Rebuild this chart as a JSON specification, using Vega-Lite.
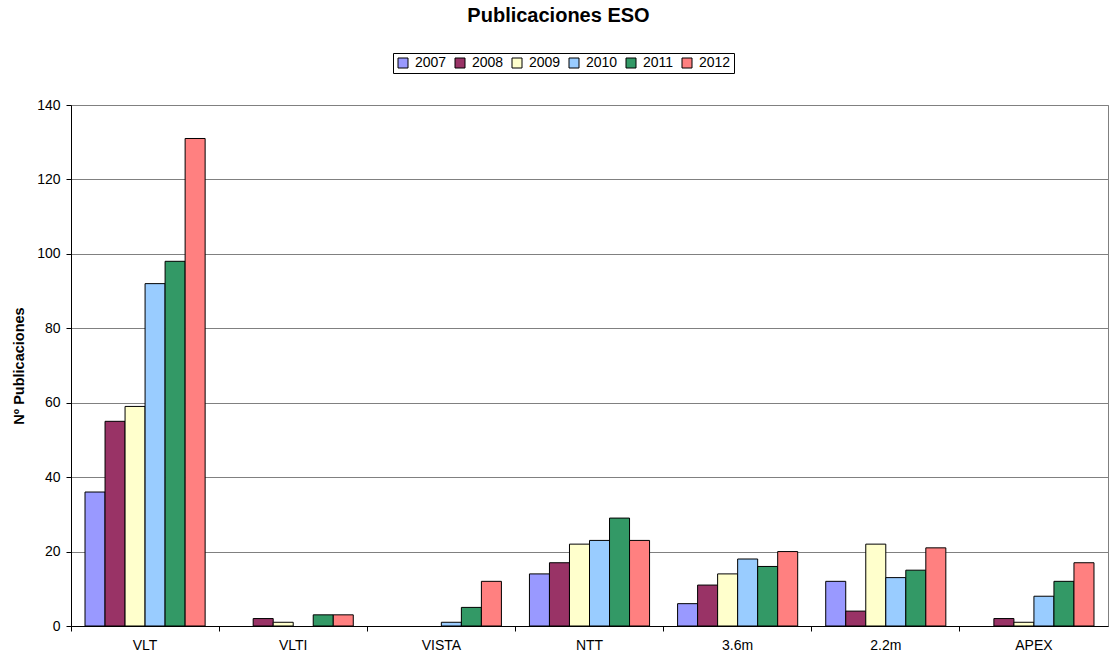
{
  "$schema": "https://vega.github.io/schema/vega-lite/v6.json",
  "width": 1037,
  "height": 521,
  "autosize": {"type": "none"},
  "padding": {"left": 71, "top": 105, "right": 5, "bottom": 35},
  "background": "white",
  "title": {
    "text": "Publicaciones ESO",
    "font": "Liberation Sans",
    "fontSize": 20,
    "fontWeight": "bold",
    "color": "black",
    "anchor": "middle",
    "dx": -31,
    "offset": 27
  },
  "config": {
    "font": "Liberation Sans",
    "view": {"stroke": "#808080", "strokeWidth": 1},
    "axis": {"labelColor": "black", "labelFont": "Liberation Sans", "domainColor": "black", "tickColor": "black"},
    "legend": {"strokeColor": "black"}
  },
  "data": {
    "values": [
      {"telescope": "VLT", "year": "2007", "value": 36},
      {"telescope": "VLT", "year": "2008", "value": 55},
      {"telescope": "VLT", "year": "2009", "value": 59},
      {"telescope": "VLT", "year": "2010", "value": 92},
      {"telescope": "VLT", "year": "2011", "value": 98},
      {"telescope": "VLT", "year": "2012", "value": 131},
      {"telescope": "VLTI", "year": "2007", "value": 0},
      {"telescope": "VLTI", "year": "2008", "value": 2},
      {"telescope": "VLTI", "year": "2009", "value": 1},
      {"telescope": "VLTI", "year": "2010", "value": 0},
      {"telescope": "VLTI", "year": "2011", "value": 3},
      {"telescope": "VLTI", "year": "2012", "value": 3},
      {"telescope": "VISTA", "year": "2007", "value": 0},
      {"telescope": "VISTA", "year": "2008", "value": 0},
      {"telescope": "VISTA", "year": "2009", "value": 0},
      {"telescope": "VISTA", "year": "2010", "value": 1},
      {"telescope": "VISTA", "year": "2011", "value": 5},
      {"telescope": "VISTA", "year": "2012", "value": 12},
      {"telescope": "NTT", "year": "2007", "value": 14},
      {"telescope": "NTT", "year": "2008", "value": 17},
      {"telescope": "NTT", "year": "2009", "value": 22},
      {"telescope": "NTT", "year": "2010", "value": 23},
      {"telescope": "NTT", "year": "2011", "value": 29},
      {"telescope": "NTT", "year": "2012", "value": 23},
      {"telescope": "3.6m", "year": "2007", "value": 6},
      {"telescope": "3.6m", "year": "2008", "value": 11},
      {"telescope": "3.6m", "year": "2009", "value": 14},
      {"telescope": "3.6m", "year": "2010", "value": 18},
      {"telescope": "3.6m", "year": "2011", "value": 16},
      {"telescope": "3.6m", "year": "2012", "value": 20},
      {"telescope": "2.2m", "year": "2007", "value": 12},
      {"telescope": "2.2m", "year": "2008", "value": 4},
      {"telescope": "2.2m", "year": "2009", "value": 22},
      {"telescope": "2.2m", "year": "2010", "value": 13},
      {"telescope": "2.2m", "year": "2011", "value": 15},
      {"telescope": "2.2m", "year": "2012", "value": 21},
      {"telescope": "APEX", "year": "2007", "value": 0},
      {"telescope": "APEX", "year": "2008", "value": 2},
      {"telescope": "APEX", "year": "2009", "value": 1},
      {"telescope": "APEX", "year": "2010", "value": 8},
      {"telescope": "APEX", "year": "2011", "value": 12},
      {"telescope": "APEX", "year": "2012", "value": 17}
    ]
  },
  "transform": [{"filter": "datum.value > 0"}],
  "mark": {"type": "bar", "stroke": "black", "strokeWidth": 1},
  "encoding": {
    "x": {
      "field": "telescope",
      "type": "nominal",
      "sort": ["VLT", "VLTI", "VISTA", "NTT", "3.6m", "2.2m", "APEX"],
      "scale": {"paddingInner": 0, "paddingOuter": 0},
      "axis": {
        "title": null,
        "labelAngle": 0,
        "bandPosition": 0,
        "labelFontSize": 14,
        "labelPadding": 7,
        "tickSize": 5,
        "grid": false
      }
    },
    "xOffset": {
      "field": "year",
      "type": "nominal",
      "sort": ["2007", "2008", "2009", "2010", "2011", "2012"],
      "scale": {"paddingInner": 0, "paddingOuter": 0.7}
    },
    "y": {
      "field": "value",
      "type": "quantitative",
      "scale": {"domain": [0, 140], "nice": false},
      "axis": {
        "title": "Nº Publicaciones",
        "titleFontSize": 14.5,
        "titleFontWeight": "bold",
        "titleColor": "black",
        "titlePadding": 10,
        "values": [0, 20, 40, 60, 80, 100, 120, 140],
        "labelFontSize": 14,
        "labelPadding": 6,
        "tickSize": 5,
        "grid": true,
        "gridColor": "#808080",
        "gridOpacity": 1
      }
    },
    "color": {
      "field": "year",
      "type": "nominal",
      "scale": {
        "domain": ["2007", "2008", "2009", "2010", "2011", "2012"],
        "range": ["#9999FF", "#993366", "#FFFFCC", "#99CCFF", "#339966", "#FF8080"]
      },
      "legend": {
        "title": null,
        "orient": "none",
        "legendX": 322,
        "legendY": -52,
        "direction": "horizontal",
        "columns": 6,
        "symbolType": "square",
        "symbolSize": 100,
        "symbolStrokeColor": "black",
        "symbolStrokeWidth": 1,
        "labelFontSize": 14,
        "labelColor": "black",
        "labelOffset": 5,
        "columnPadding": 6,
        "padding": 3
      }
    }
  }
}
